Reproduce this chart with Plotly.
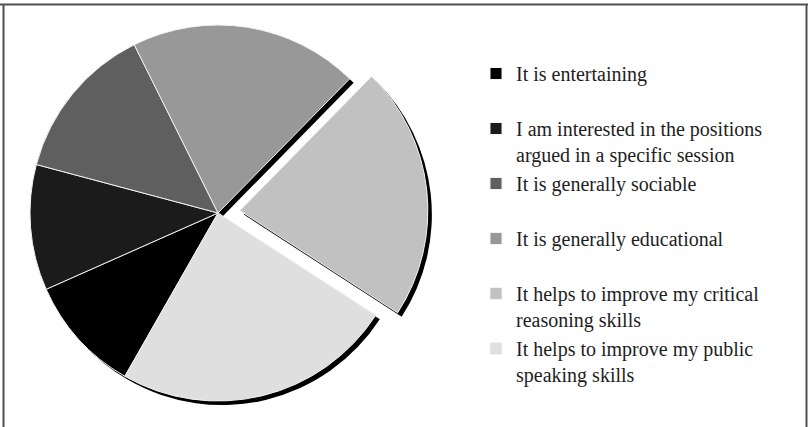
import plotly.graph_objects as go

# Reasons for attending debate sessions (share of responses, %)
labels = [
    "It is entertaining",
    "I am interested in the positions<br>argued in a specific session",
    "It is generally sociable",
    "It is generally educational",
    "It helps to improve my critical<br>reasoning skills",
    "It helps to improve my public<br>speaking skills",
]
values = [10.1, 10.8, 13.5, 19.7, 21.8, 24.1]
colors = ["#000000", "#1b1b1b", "#5f5f5f", "#989898", "#c1c1c1", "#dfdfdf"]
pulls = [0, 0, 0, 0, 0.117, 0]

W, H = 808, 427
# pie box in pixels (left, top, size)
px0, py0, size = 8, 3, 420
shadow_dx, shadow_dy = 4, 4

# single-line entries get a blank second line so every legend row has the same height
legend_labels = [l if "<br>" in l else l + "<br> " for l in labels]


def dom(x0, y0):
    return dict(
        x=[max(0, x0 / W), min(1, (x0 + size) / W)],
        y=[max(0, (H - y0 - size) / H), min(1, (H - y0) / H)],
    )


fig = go.Figure()

# drop shadow behind the pie
fig.add_trace(go.Pie(
    labels=["s%d" % i for i in range(len(values))],
    values=values,
    sort=False,
    direction="clockwise",
    rotation=209.7,
    pull=pulls,
    marker=dict(colors=["#000000"] * len(values), line=dict(width=0)),
    textinfo="none",
    hoverinfo="skip",
    showlegend=False,
    domain=dom(px0 + shadow_dx, py0 + shadow_dy),
))

fig.add_trace(go.Pie(
    labels=legend_labels,
    values=values,
    sort=False,
    direction="clockwise",
    rotation=209.7,
    pull=pulls,
    marker=dict(colors=colors, line=dict(color="#f2f2f2", width=1)),
    textinfo="none",
    hovertemplate="%{label}: %{value}%<extra></extra>",
    domain=dom(px0, py0),
))

frame = dict(type="line", xref="paper", yref="paper", line=dict(color="#505050", width=2))
fig.update_layout(
    width=W,
    height=H,
    margin=dict(l=0, r=0, t=0, b=0),
    paper_bgcolor="white",
    plot_bgcolor="white",
    font=dict(family="Liberation Serif", color="#1e1e1e"),
    legend=dict(
        x=476 / W,
        xanchor="left",
        y=(H - 54) / H,
        yanchor="top",
        valign="top",
        font=dict(family="Liberation Serif", size=20, color="#1e1e1e"),
        traceorder="normal",
    ),
    shapes=[
        dict(frame, x0=0, x1=1, y0=(H - 4.5) / H, y1=(H - 4.5) / H),
        dict(frame, x0=3.5 / W, x1=3.5 / W, y0=0, y1=(H - 4.5) / H),
        dict(frame, x0=806.5 / W, x1=806.5 / W, y0=0, y1=(H - 4.5) / H),
    ],
)

fig.write_html("out.html")
